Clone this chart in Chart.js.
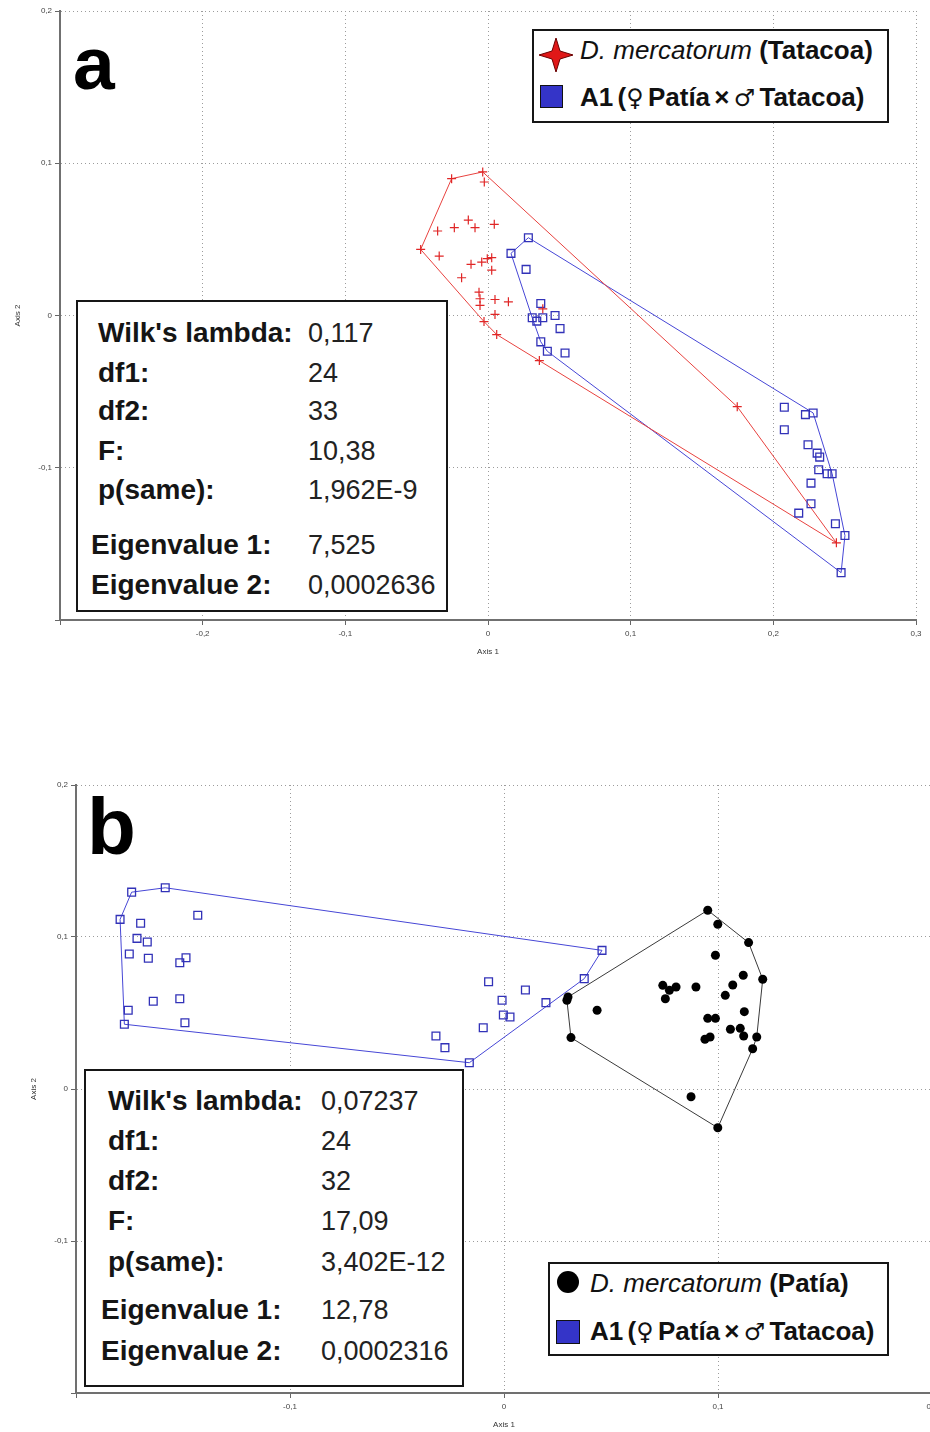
<!DOCTYPE html>
<html>
<head>
    <meta charset="UTF-8">
    <title>Discriminant analysis - D. mercatorum and A1</title>
    <script src="https://cdn.jsdelivr.net/npm/chart.js@4.4.1/dist/chart.umd.min.js"></script>
    <style>
        html, body { margin: 0; padding: 0; background: #fff; overflow: hidden; }
        body { width: 930px; height: 1432px; position: relative; font-family: 'Liberation Sans', Arial, sans-serif; }
        canvas { position: absolute; left: 0; }
        .box { position: absolute; box-sizing: border-box; border: 2px solid #161616; background: #fff; }
        .row { position: absolute; white-space: nowrap; font-size: 26px; line-height: 32px; color: #111; }
        .row b { font-weight: bold; }
        .sym { font-family: 'DejaVu Sans', sans-serif; font-weight: normal; font-size: 24px; }
        .lbl { position: absolute; white-space: nowrap; font-size: 28px; line-height: 32px; font-weight: bold; color: #151515; }
        .val { position: absolute; white-space: nowrap; font-size: 27px; line-height: 32px; color: #222; }
        .letter { position: absolute; font-weight: bold; line-height: 1; color: #000; }
        .sq { position: absolute; width: 22px; height: 22px; box-sizing: border-box; background: #3434c8; border: 1px solid #111; }
        .dot { position: absolute; width: 22px; height: 22px; border-radius: 50%; background: #000; }
    </style>
</head>
<body>

<canvas id="chartA" width="930" height="680" style="top:0px"></canvas>
<canvas id="chartB" width="950" height="672" style="top:760px"></canvas>

<div class="letter" style="left:73px;top:26px;font-size:75px">a</div>
<div class="letter" style="left:87px;top:787px;font-size:80px">b</div>

<div class="box" id="legendA" style="left:532px;top:29px;width:357px;height:94px">
    <svg style="position:absolute;left:4px;top:6px" width="36" height="36" viewBox="-18 -18 36 36">
        <path d="M0,-17 L4,-4 L17,0 L4,4 L0,17 L-4,4 L-17,0 L-4,-4 Z" fill="#e01818" stroke="#6a0000" stroke-width="1"/>
    </svg>
    <div class="row" style="left:46px;top:3px"><i>D. mercatorum</i> <b>(Tatacoa)</b></div>
    <div class="sq" style="left:6px;top:54px;width:23px;height:23px"></div>
    <div class="row" style="left:46px;top:50px;font-weight:bold;word-spacing:-3px">A1 (<span class="sym">♀</span> Patía × <span class="sym">♂</span> Tatacoa)</div>
</div>

<div class="box" id="legendB" style="left:548px;top:1262px;width:341px;height:94px">
    <div class="dot" style="left:7px;top:7px"></div>
    <div class="row" style="left:40px;top:3px"><i>D. mercatorum</i> <b>(Patía)</b></div>
    <div class="sq" style="left:6px;top:56px;width:24px;height:24px"></div>
    <div class="row" style="left:40px;top:51px;font-weight:bold;word-spacing:-3px">A1 (<span class="sym">♀</span> Patía × <span class="sym">♂</span> Tatacoa)</div>
</div>

<div class="box" id="statsA" style="left:76px;top:300px;width:372px;height:312px"></div>
<div class="box" id="statsB" style="left:84px;top:1069px;width:380px;height:318px"></div>

<script>
    // panel a: D. mercatorum (Tatacoa) vs A1
    var tatacoaX = [-0.0255, -0.0037, -0.0026, -0.0138, 0.0044, -0.0353, -0.0236, -0.0091, -0.0472, -0.0342,
                    0.0026, -0.0119, -0.0044, -0.0005, 0.0026, -0.0185, -0.0063, -0.0056, -0.0056, 0.0049,
                    0.0143, 0.0049, -0.0028, 0.0061, 0.036, 0.0384, 0.1747, 0.2442];
    var tatacoaY = [0.0899, 0.0943, 0.0877, 0.0627, 0.0599, 0.0555, 0.0577, 0.0577, 0.0434, 0.039,
                    0.038, 0.0336, 0.0351, 0.0373, 0.0298, 0.0248, 0.0153, 0.011, 0.0066, 0.0105,
                    0.009, 0.0007, -0.004, -0.0125, -0.0296, 0.0044, -0.0599, -0.1493];
    var hybridAX = [0.0283, 0.0161, 0.0267, 0.037, 0.031, 0.0342, 0.0384, 0.047, 0.0505, 0.037, 0.0416, 0.054,
                    0.2077, 0.2225, 0.2279, 0.2077, 0.2243, 0.2307, 0.2325, 0.2318, 0.2377, 0.2412, 0.2264,
                    0.2264, 0.2178, 0.2435, 0.2502, 0.2475];
    var hybridAY = [0.0511, 0.0408, 0.0303, 0.0079, -0.0015, -0.0037, -0.0015, 0.0, -0.0086, -0.0173, -0.0235, -0.0246,
                    -0.0603, -0.0651, -0.064, -0.075, -0.0849, -0.0904, -0.093, -0.1013, -0.1039, -0.1039, -0.1101,
                    -0.1237, -0.1298, -0.1368, -0.1445, -0.1689];

    // panel b: D. mercatorum (Patía) vs A1
    var hybridBX = [-0.174, -0.1583, -0.1431, -0.1794, -0.1698, -0.1715, -0.1667, -0.1751, -0.1662, -0.1515,
                    -0.1486, -0.1639, -0.1515, -0.1756, -0.1774, -0.1491,
                    0.0458, 0.0375, -0.0072, 0.01, -0.0009, 0.0196, -0.0003, 0.0028, -0.0097, -0.0318, -0.0276, -0.0162];
    var hybridBY = [0.1295, 0.1324, 0.1143, 0.1116, 0.109, 0.0991, 0.0967, 0.0888, 0.086, 0.0831,
                    0.0864, 0.0577, 0.0594, 0.0518, 0.0426, 0.0436,
                    0.0912, 0.0726, 0.0706, 0.0651, 0.0584, 0.0568, 0.0487, 0.0474, 0.0403, 0.0349, 0.0272, 0.0173];
    var patiaX = [0.0952, 0.0999, 0.1143, 0.0988, 0.1118, 0.1209, 0.1069, 0.0742, 0.0804, 0.0773,
                  0.0897, 0.0754, 0.1034, 0.0294, 0.0299, 0.0435, 0.1123, 0.0952, 0.0988, 0.1058,
                  0.1104, 0.112, 0.1181, 0.0963, 0.0939, 0.1162, 0.0313, 0.0874, 0.0999];
    var patiaY = [0.1176, 0.1084, 0.0963, 0.088, 0.0748, 0.0722, 0.0684, 0.0682, 0.0671, 0.0649,
                  0.0671, 0.0594, 0.0616, 0.0584, 0.0605, 0.0518, 0.0509, 0.0465, 0.0465, 0.0393,
                  0.0399, 0.0349, 0.0342, 0.0342, 0.0327, 0.0265, 0.0338, -0.0051, -0.0255];

    // axes
    var yTicks = [-0.2, -0.1, 0, 0.1, 0.2];
    var xTicksA = [-0.3, -0.2, -0.1, 0, 0.1, 0.2, 0.3];
    var xTicksB = [-0.2, -0.1, 0, 0.1, 0.2];

    // statistics boxes
    var statLabels = ["Wilk's lambda:", 'df1:', 'df2:', 'F:', 'p(same):', 'Eigenvalue 1:', 'Eigenvalue 2:'];
    var statsA = ['0,117', '24', '33', '10,38', '1,962E-9', '7,525', '0,0002636'];
    var statsB = ['0,07237', '24', '32', '17,09', '3,402E-12', '12,78', '0,0002316'];

    function points(xs, ys) {
        return xs.map(function(x, i) { return {x: x, y: ys[i]}; });
    }

    // convex hull (monotone chain), closed
    function hull(xs, ys) {
        var p = xs.map(function(x, i) { return [x, ys[i]]; });
        p.sort(function(a, b) { return a[0] - b[0] || a[1] - b[1]; });
        function cross(o, a, b) { return (a[0] - o[0]) * (b[1] - o[1]) - (a[1] - o[1]) * (b[0] - o[0]); }
        var lower = [], upper = [];
        p.forEach(function(q) {
            while (lower.length >= 2 && cross(lower[lower.length - 2], lower[lower.length - 1], q) <= 0) lower.pop();
            lower.push(q);
        });
        p.slice().reverse().forEach(function(q) {
            while (upper.length >= 2 && cross(upper[upper.length - 2], upper[upper.length - 1], q) <= 0) upper.pop();
            upper.push(q);
        });
        var h = lower.slice(0, -1).concat(upper.slice(0, -1));
        h.push(h[0]);
        return h.map(function(q) { return {x: q[0], y: q[1]}; });
    }

    function fmt(v, min) {
        var r = Math.round(v * 10) / 10;
        if (Math.abs(r - min) < 1e-9) return '';
        return String(r).replace('.', ',');
    }

    function axis(list, fitSize, horizontal, titlePad) {
        var min = list[0], max = list[list.length - 1];
        return {
            type: 'linear',
            position: horizontal ? 'bottom' : 'left',
            min: min,
            max: max,
            afterBuildTicks: function(scale) {
                scale.ticks = list.map(function(v) { return {value: v}; });
            },
            afterFit: function(scale) {
                if (horizontal) scale.height = fitSize; else scale.width = fitSize;
            },
            ticks: {
                autoSkip: false,
                maxRotation: 0,
                padding: horizontal ? 4 : 3,
                color: '#444',
                font: {family: 'Liberation Sans', size: 8},
                callback: function(v) { return fmt(v, min); }
            },
            grid: {
                color: '#9c9c9c',
                lineWidth: 1,
                drawTicks: true,
                tickLength: 5,
                tickColor: '#666',
                tickWidth: 1
            },
            border: {display: true, color: '#707070', width: 2, dash: [1, 3]},
            title: {
                display: true,
                text: horizontal ? 'Axis 1' : 'Axis 2',
                color: '#333',
                font: {family: 'Liberation Sans', size: 8},
                padding: horizontal ? {bottom: titlePad, top: 0} : {top: titlePad, bottom: 0}
            }
        };
    }

    function scatterSet(data, style) {
        return Object.assign({data: data, showLine: false}, style);
    }

    function hullSet(data, color) {
        return {data: data, showLine: true, fill: false, tension: 0, pointRadius: 0,
                borderColor: color, borderWidth: 1};
    }

    var crossStyle = {pointStyle: 'cross', pointRadius: 4.5, borderColor: '#e02626', borderWidth: 1.2, backgroundColor: '#e02626'};
    var squareStyle = {pointStyle: 'rect', pointRadius: 5.5, borderColor: '#3232b8', borderWidth: 1.3, backgroundColor: 'rgba(0,0,0,0)'};
    var dotStyle = {pointStyle: 'circle', pointRadius: 4.5, borderColor: '#000', borderWidth: 0, backgroundColor: '#000'};

    function makeChart(id, datasets, xList, padding, yWidth, xHeight, yTitlePad, xTitlePad) {
        return new Chart(id, {
            type: 'scatter',
            data: {datasets: datasets},
            options: {
                responsive: false,
                animation: false,
                events: [],
                layout: {padding: padding},
                plugins: {legend: {display: false}, tooltip: {enabled: false}},
                scales: {
                    x: axis(xList, xHeight, true, xTitlePad),
                    y: axis(yTicks, yWidth, false, yTitlePad)
                }
            }
        });
    }

    makeChart('chartA', [
        scatterSet(points(tatacoaX, tatacoaY), crossStyle),
        scatterSet(points(hybridAX, hybridAY), squareStyle),
        hullSet(hull(tatacoaX, tatacoaY), '#e8423f'),
        hullSet(hull(hybridAX, hybridAY), '#4646d6')
    ], xTicksA, {left: 0, top: 11, right: 14, bottom: 0}, 60, 60, 13, 23);

    makeChart('chartB', [
        scatterSet(points(patiaX, patiaY), dotStyle),
        scatterSet(points(hybridBX, hybridBY), squareStyle),
        hullSet(hull(patiaX, patiaY), '#3a3a3a'),
        hullSet(hull(hybridBX, hybridBY), '#4646d6')
    ], xTicksB, {left: 0, top: 25, right: 18, bottom: 0}, 76, 39, 29, 2);

    function fillStats(id, values, rowTops, lblLeft, eigLeft, valLeft) {
        var box = document.getElementById(id);
        statLabels.forEach(function(label, i) {
            var l = document.createElement('div');
            l.className = 'lbl';
            l.style.top = rowTops[i] + 'px';
            l.style.left = (i >= 5 ? eigLeft : lblLeft) + 'px';
            l.textContent = label;
            box.appendChild(l);
            var v = document.createElement('div');
            v.className = 'val';
            v.style.top = rowTops[i] + 'px';
            v.style.left = valLeft + 'px';
            v.textContent = values[i];
            box.appendChild(v);
        });
    }

    fillStats('statsA', statsA, [15, 55, 93, 133, 172, 227, 267], 20, 13, 230);
    fillStats('statsB', statsB, [14, 54, 94, 134, 175, 223, 264], 22, 15, 235);
</script>

</body>
</html>
